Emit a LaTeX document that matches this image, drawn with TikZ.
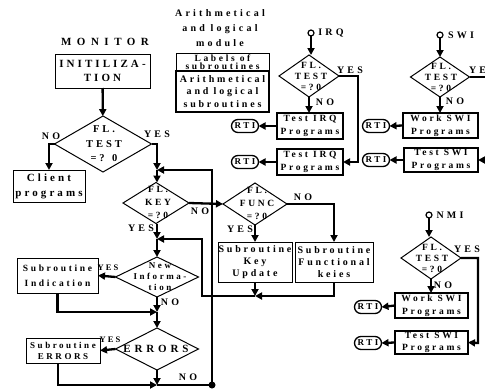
\documentclass[tikz,border=0pt]{standalone}
\usepackage{fontspec}
\setmainfont{Liberation Serif}[LetterSpace=28]
\usetikzlibrary{shapes.geometric,shapes.misc,arrows.meta}

\tikzset{
  x=1pt, y=-1pt,
  every node/.style={inner sep=0pt, outer sep=0pt, align=center,
    font=\bfseries\fontsize{10}{12}\selectfont},
  box/.style={draw, rectangle, line width=1pt},
  bbox/.style={draw, rectangle, line width=2pt},
  dia/.style={draw, diamond, line width=1pt},
  rti/.style={draw, rounded rectangle, line width=1.3pt, minimum width=27pt,
    minimum height=13pt, font=\bfseries\fontsize{9}{9}\selectfont},
  lab/.style={font=\bfseries\fontsize{10}{10}\selectfont\addfontfeature{LetterSpace=32}},
  slab/.style={font=\bfseries\fontsize{8.5}{9}\selectfont\addfontfeature{LetterSpace=25}},
  con/.style={line width=2.3pt},
  arr/.style={con, -{Triangle[length=7pt,width=7pt]}},
  ring/.style={circle, draw, line width=1.2pt, minimum size=6pt},
  joint/.style={circle, fill, minimum size=7pt},
}

\begin{document}
\begin{tikzpicture}
\useasboundingbox (0,0) rectangle (485,391);
\clip (0,0) rectangle (485,391);

% ---------------- monitor ----------------
\node[font=\bfseries\fontsize{11}{12}\selectfont\addfontfeature{LetterSpace=50}] (montitle) at (105,42) {MONITOR};
\node[box, minimum width=95pt, minimum height=34pt,
  font=\bfseries\fontsize{11}{14}\selectfont] (init) at (102.5,71) {INITILIZA-\\TION};

\node[dia, minimum width=97pt, minimum height=56pt] (t0) at (103,144) {};
\node[font=\bfseries\fontsize{10.5}{14.5}\selectfont] (t0txt) at (104,144) {FL.\\TEST\\=? 0};
\node[box, minimum width=72pt, minimum height=32pt,
  font=\bfseries\fontsize{11}{15}\selectfont] (client) at (49,186) {Client\\programs};

\node[dia, minimum width=66pt, minimum height=41pt] (key) at (156,203) {};
\node[font=\bfseries\fontsize{9.5}{13}\selectfont] (keytxt) at (158,202) {FL.\\KEY\\=?0};

\node[dia, minimum width=64pt, minimum height=42pt] (func) at (255,204) {};
\node[font=\bfseries\fontsize{9.5}{13}\selectfont] (functxt) at (257,203) {FL.\\FUNC\\=?0};

\node[box, minimum width=74pt, minimum height=40pt,
  font=\bfseries\fontsize{10}{12}\selectfont] (keyupd) at (255,262) {Subroutine\\Key\\Update};
\node[box, minimum width=78pt, minimum height=40pt,
  font=\bfseries\fontsize{10}{12}\selectfont] (fkeys) at (334,262) {Subroutine\\Functional\\keies};

\node[dia, minimum width=83pt, minimum height=40pt] (newinfo) at (157,277) {};
\node[font=\bfseries\fontsize{9}{11}\selectfont] (newtxt) at (160,277) {New\\Informa-\\tion};
\node[box, minimum width=81pt, minimum height=35pt,
  font=\bfseries\fontsize{9.5}{14.5}\selectfont] (indic) at (57.5,275.5) {Subroutine\\Indication};

\node[dia, minimum width=83pt, minimum height=42pt] (errors) at (157,349) {};
\node[font=\bfseries\fontsize{11}{13}\selectfont\addfontfeature{LetterSpace=35}] (errtxt) at (156,349) {ERRORS};
\node[box, minimum width=74pt, minimum height=25pt,
  font=\bfseries\fontsize{9}{11}\selectfont] (suberr) at (63,350.5) {Subroutine\\ERRORS};

% junction points of the main loop
\coordinate (j1) at (157,170);
\coordinate (j2) at (255,296);
\coordinate (j3) at (157,239);
\coordinate (j4) at (157,312);
\coordinate (j5) at (157,385);
\node[joint] (loopdot) at (212,385) {};

% ---------------- module ----------------
\node[font=\bfseries\fontsize{10}{15}\selectfont\addfontfeature{LetterSpace=32}] (modtitle) at (220,28) {Arithmetical\\and logical\\module};
\node[box, minimum width=93pt, minimum height=18pt,
  font=\bfseries\fontsize{9.5}{8.5}\selectfont] (labels) at (222.5,62) {Labels of\\subroutines};
\node[bbox, line width=1.6pt, minimum width=93pt, minimum height=41pt,
  font=\bfseries\fontsize{10}{12.5}\selectfont] (arith) at (222.5,91.5) {Arithmetical\\and logical\\subroutines};

% ---------------- IRQ ----------------
\node[ring] (irqc) at (311,33) {};
\node[lab] (irqt) at (331,33) {IRQ};
\node[dia, minimum width=60pt, minimum height=42pt] (irqd) at (309,76) {};
\node[font=\bfseries\fontsize{9.5}{11}\selectfont] (irqtxt) at (311,76) {FL.\\TEST\\=?0};
\node[bbox, minimum width=66pt, minimum height=26pt,
  font=\bfseries\fontsize{9.5}{13}\selectfont] (irqb1) at (310,126) {Test IRQ\\Programs};
\node[bbox, minimum width=66pt, minimum height=26pt,
  font=\bfseries\fontsize{9.5}{13}\selectfont] (irqb2) at (310,162) {Test IRQ\\Programs};
\node[rti] (rti1) at (245,126) {RTI};
\node[rti] (rti2) at (245,162) {RTI};

% ---------------- SWI ----------------
\node[ring] (swic) at (440,35) {};
\node[lab] (swit) at (461,35) {SWI};
\node[dia, minimum width=59pt, minimum height=40pt] (swid) at (440,77) {};
\node[font=\bfseries\fontsize{9.5}{11}\selectfont] (switxt) at (441,77) {FL.\\TEST\\=?0};
\node[bbox, minimum width=75pt, minimum height=25pt,
  font=\bfseries\fontsize{9.5}{13}\selectfont] (swib1) at (440.5,125.5) {Work SWI\\Programs};
\node[bbox, minimum width=74pt, minimum height=24pt,
  font=\bfseries\fontsize{9.5}{12.5}\selectfont] (swib2) at (441,160) {Test SWI\\Programs};
\node[rti] (rti3) at (376,126) {RTI};
\node[rti] (rti4) at (376,160) {RTI};
\coordinate (swiup) at (492,77);
\coordinate (swidn) at (492,160);

% ---------------- NMI ----------------
\node[ring] (nmic) at (429,215) {};
\node[lab] (nmit) at (450,215) {NMI};
\node[dia, minimum width=60pt, minimum height=42pt] (nmid) at (431,258) {};
\node[font=\bfseries\fontsize{9.5}{11}\selectfont] (nmitxt) at (432,258) {FL.\\TEST\\=?0};
\node[bbox, minimum width=73pt, minimum height=25pt,
  font=\bfseries\fontsize{9.5}{13}\selectfont] (nmib1) at (431.5,305.5) {Work SWI\\Programs};
\node[bbox, minimum width=73pt, minimum height=23pt,
  font=\bfseries\fontsize{9.5}{12}\selectfont] (nmib2) at (431.5,342.5) {Test SWI\\Programs};
\node[rti] (rti5) at (368,307) {RTI};
\node[rti] (rti6) at (368,343) {RTI};

% ---------------- connectors: monitor ----------------
\draw[arr] (init) -- (t0);
\draw[arr] (t0.west) -- (49,144) -- (client.north);
\draw[arr] (t0.east) -- (157,144) -- (j1);
\draw[arr] (j1) -- (key.north -| j1);
\draw[arr] (loopdot.center) -- (212,170) -- (j1);
\draw[arr] (key.east) -- (func.west);
\draw[arr] (func.east) -- (fkeys.north |- func.east) -- (fkeys.north);
\draw[arr] (func.south) -- (keyupd.north);
\draw[arr] (keyupd.south) -- (j2);
\draw[arr] (fkeys.south) -- (fkeys.south |- j2) -- (j2);
\draw[arr] (j2) -- (202,296) -- (202,239) -- (j3);
\draw[arr] (key.south -| j3) -- (j3);
\draw[arr] (j3) -- (newinfo.north -| j3);
\draw[arr] (newinfo.west) -- (indic.east);
\draw[arr] (indic.south) -- (indic.south |- j4) -- (j4);
\draw[arr] (newinfo.south -| j4) -- (j4);
\draw[arr] (j4) -- (errors.north -| j4);
\draw[arr] (errors.west) -- (suberr.east);
\draw[arr] (suberr.south -| 58,0) -- (58,385) -- (j5);
\draw[arr] (errors.south -| j5) -- (j5);
\draw[con] (j5) -- (loopdot.center);

% ---------------- connectors: interrupts ----------------
\draw[arr] (irqc) -- (irqc |- irqd.north);
\draw[arr] (irqd.south) -- (irqd.south |- irqb1.north);
\draw[arr] (irqd.east) -- (358,76) -- (358,162) -- (irqb2.east);
\draw[arr] (irqb1.west) -- (rti1.east);
\draw[arr] (irqb2.west) -- (rti2.east);

\draw[arr] (swic) -- (swid.north);
\draw[arr] (swid.south) -- (swib1.north -| swid.south);
\draw[arr] (swid.east) -- (swiup) -- (swidn) -- (swib2.east);
\draw[arr] (swib1.west) -- (rti3.east);
\draw[arr] (swib2.west) -- (rti4.east);

\draw[arr] (nmic) -- (nmic |- nmid.north);
\draw[arr] (nmid.south) -- (nmib1.north -| nmid.south);
\draw[arr] (nmid.east) -- (478,258) -- (478,343) -- (nmib2.east);
\draw[arr] (nmib1.west) -- (rti5.east);
\draw[arr] (nmib2.west) -- (rti6.east);

% ---------------- branch labels ----------------
\node[lab] (l1) at (51,136) {NO};
\node[lab] (l2) at (157,134) {YES};
\node[lab] (l3) at (141,228) {YES};
\node[lab] (l4) at (200,211) {NO};
\node[lab] (l5) at (303,197) {NO};
\node[lab] (l6) at (240,229) {YES};
\node[slab] (l7) at (108,268) {YES};
\node[lab] (l8) at (170,302) {NO};
\node[slab] (l9) at (110,340) {YES};
\node[lab] (l10) at (188,377) {NO};
\node[lab] (l11) at (350,70) {YES};
\node[lab] (l12) at (325,102) {NO};
\node[lab] (l13) at (482,70) {YES};
\node[lab] (l14) at (455,101) {NO};
\node[lab] (l15) at (467,249) {YES};
\node[lab] (l16) at (443,285) {NO};
\end{tikzpicture}
\end{document}
